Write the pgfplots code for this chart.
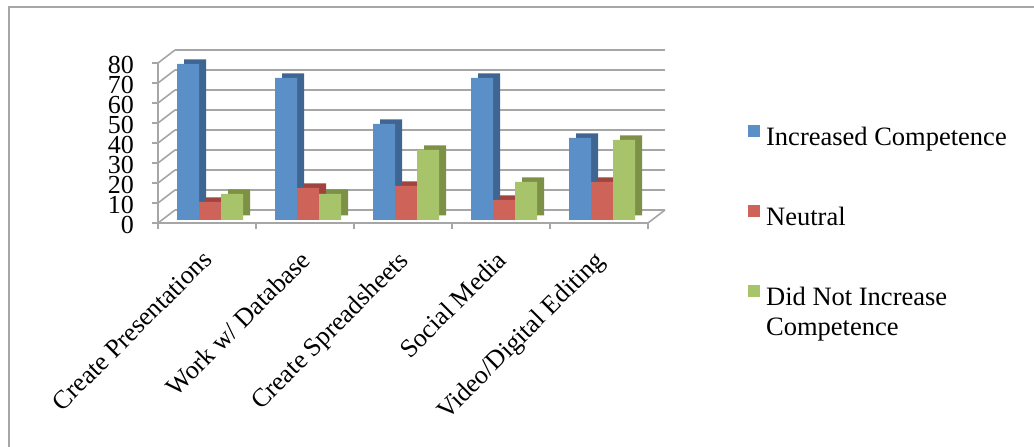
\documentclass[border=0pt]{standalone}
\usepackage{fontspec}
\setmainfont{Liberation Serif}
\usepackage{pgfplots}
\usepackage{pgfplotstable}
\pgfplotsset{compat=1.18}

\definecolor{icBlue}{HTML}{5A8FC8}
\definecolor{icBlueDk}{HTML}{3F6592}
\definecolor{ntRed}{HTML}{CE6459}
\definecolor{ntRedDk}{HTML}{A0443D}
\definecolor{dnGreen}{HTML}{A7C46A}
\definecolor{dnGreenDk}{HTML}{7C9146}
\definecolor{wallgrid}{HTML}{A6A6A6}

% percent of respondents per skill
\pgfplotstableread{
x inc neu dni
0 78 9  13
1 71 16 13
2 48 17 35
3 71 10 19
4 41 19 40
}\skills

% fixed row height for the legend entries
\newcommand\rowstrut{\rule[-40pt]{0pt}{80pt}}

\begin{document}
\begin{tikzpicture}[x=1pt,y=1pt]
\useasboundingbox (0,0) rectangle (1034,447);
\draw[wallgrid, line width=2pt] (9,0) -- (9,440) -- (1034,440);

% back wall with its gridlines
\begin{axis}[
  at={(175pt,237pt)}, anchor=south west,
  scale only axis, width=490pt, height=160pt,
  xmin=-0.5, xmax=4.5, ymin=0, ymax=80,
  ytick={0,10,...,80}, yticklabels={}, xtick=\empty,
  ymajorgrids, major grid style={wallgrid, line width=1.6pt},
  axis line style={draw=none}, tick style={draw=none},
]
\end{axis}

\begin{axis}[
  at={(158pt,224pt)}, anchor=south west,
  scale only axis, width=490pt, height=160pt,
  xmin=-0.5, xmax=4.5, ymin=0, ymax=80, clip=false,
  axis lines*=left,
  axis line style={wallgrid, line width=1.6pt},
  tick align=outside, major tick length=6pt,
  tick style={wallgrid, line width=1.4pt},
  ytick={0,10,...,80},
  /pgf/number format/assume math mode=true,
  yticklabel style={font=\fontsize{26}{26}\selectfont, inner sep=0pt, xshift=-18pt, yshift=-1.5pt},
  xtick={-0.5,0.5,...,4.5}, xticklabels={},
  extra x ticks={0,1,2,3,4},
  extra x tick labels={Create Presentations, Work w/ Database, Create Spreadsheets, Social Media, Video/Digital Editing},
  extra x tick style={major tick length=0pt,
    xticklabel style={font=\fontsize{26}{30}\selectfont, inner sep=0pt,
      xshift=-6pt, yshift=-26pt, rotate=45, anchor=north east}},
  legend image code/.code={\fill[#1,draw=none] (0pt,5pt) rectangle (12pt,17pt);},
  legend style={draw=none, fill=none, at={(1.204,0.7375)}, anchor=north west,
    inner sep=0pt, row sep=0pt, column sep=6pt,
    nodes={inner sep=0pt, text depth=}, cells={anchor=base west},
    font=\fontsize{26.5}{30}\selectfont},
]
% side wall diagonals and floor edge
\pgfplotsinvokeforeach{0,10,...,80}{
  \draw[wallgrid, line width=1.6pt] (axis cs:-0.5,#1) -- ++(17pt,13pt);
}
\draw[wallgrid, line width=1.6pt] (axis cs:4.5,0) -- ++(17pt,13pt);

% bars: shaded depth first, then the front face
\addplot[ybar, bar width=22pt, bar shift=-22pt, fill=icBlueDk, draw=none, xshift=10pt, yshift=7.5pt, forget plot] table[x=x, y=inc]{\skills};
\addplot[ybar, bar width=22pt, bar shift=-22pt, fill=icBlue, draw=none, xshift=3pt, yshift=3pt] table[x=x, y=inc]{\skills};
\addlegendentry{\rowstrut Increased Competence}
\addplot[ybar, bar width=22pt, bar shift=0pt, fill=ntRedDk, draw=none, xshift=10pt, yshift=7.5pt, forget plot] table[x=x, y=neu]{\skills};
\addplot[ybar, bar width=22pt, bar shift=0pt, fill=ntRed, draw=none, xshift=3pt, yshift=3pt] table[x=x, y=neu]{\skills};
\addlegendentry{\rowstrut Neutral}
\addplot[ybar, bar width=22pt, bar shift=22pt, fill=dnGreenDk, draw=none, xshift=10pt, yshift=7.5pt, forget plot] table[x=x, y=dni]{\skills};
\addplot[ybar, bar width=22pt, bar shift=22pt, fill=dnGreen, draw=none, xshift=3pt, yshift=3pt] table[x=x, y=dni]{\skills};
\addlegendentry{{\begin{tabular}[t]{@{}l@{}}\rule{0pt}{40pt}Did Not Increase\\Competence\end{tabular}}}
\end{axis}
\end{tikzpicture}
\end{document}
